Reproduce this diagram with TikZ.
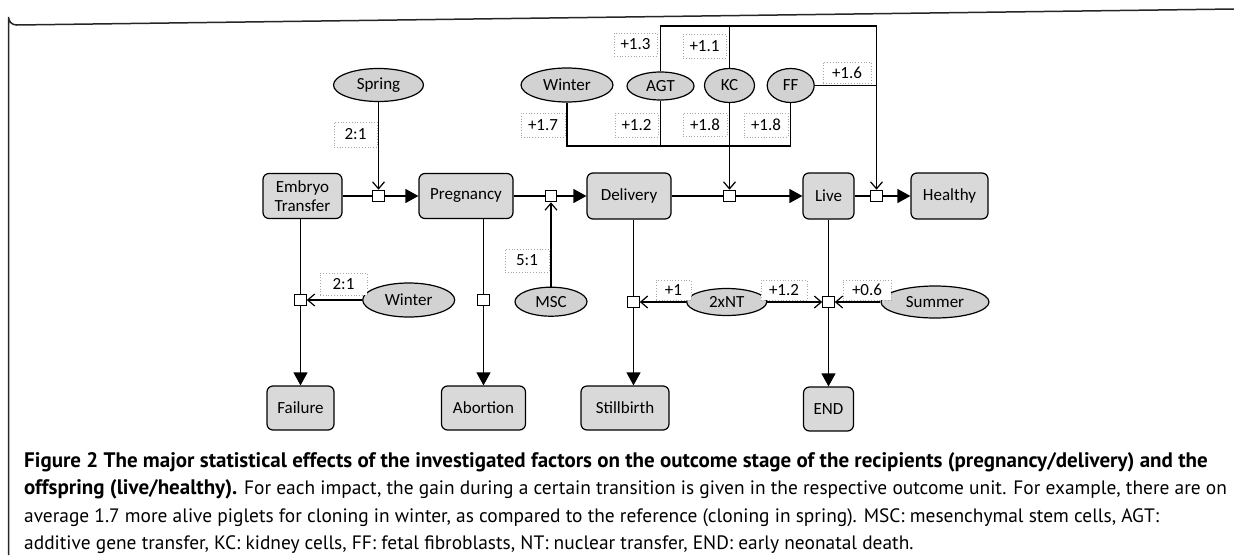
\documentclass[tikz,border=0pt]{standalone}
\usepackage{fontspec}
\setmainfont{Carlito}
\newfontfamily\capfont{PT Sans}
\newcommand{\capbold}{\fontsize{21}{23}\selectfont\bfseries}
\usetikzlibrary{arrows.meta,shapes.geometric}
\begin{document}
\begin{tikzpicture}[x=1pt,y=-1pt,
  stagebox/.style={draw=black, line width=1.2pt, rounded corners=6pt, fill=gray!30,
    font=\fontsize{17}{18.5}\selectfont, align=center, inner sep=0pt},
  factor/.style={ellipse, draw=black, line width=1.2pt, fill=gray!35, inner sep=0pt,
    font=\fontsize{17}{19}\selectfont},
  junc/.style={draw=black, fill=white, line width=1.1pt, minimum size=11.5pt, inner sep=0pt},
  lab/.style={draw=gray!70, dotted, fill=white, line width=0.8pt, inner sep=0pt,
    font=\fontsize{17}{19}\selectfont},
  conn/.style={line width=1.2pt},
  flow/.style={line width=1.2pt, -{Triangle[length=13pt,width=14pt]}},
  eff/.style={line width=1.2pt, -{Straight Barb[length=7pt,width=12pt]}},
  capline/.style={anchor=base west, inner sep=0pt, font=\capfont\fontsize{19.4}{23}\selectfont}
]
\useasboundingbox (0,0) rectangle (1234,555);
% frame
\draw[line width=1.5pt, black!85] (8.5,555) -- (8.5,17) arc[start angle=180, end angle=90, radius=8] -- (1234,9);

% stages
\node[stagebox, minimum width=79pt, minimum height=45pt] (et) at (302.5,196) {Embryo\\Transfer};
\node[stagebox, minimum width=94pt, minimum height=45pt] (preg) at (466,196) {Pregnancy};
\node[stagebox, minimum width=84pt, minimum height=46pt] (deliv) at (629,196) {Delivery};
\node[stagebox, minimum width=51pt, minimum height=46pt] (live) at (828.5,196) {Live};
\node[stagebox, minimum width=77pt, minimum height=46pt] (healthy) at (949.5,196) {Healthy};
\node[stagebox, minimum width=67pt, minimum height=44pt] (fail) at (300.5,408) {Failure};
\node[stagebox, minimum width=84pt, minimum height=44pt] (abort) at (483.5,408) {Abortion};
\node[stagebox, minimum width=88pt, minimum height=44pt] (still) at (625,408) {Stillbirth};
\node[stagebox, minimum width=50pt, minimum height=44pt] (endb) at (828.5,409) {END};

% junctions
\node[junc] (s1) at (378.5,196) {};
\node[junc] (s2) at (551,196) {};
\node[junc] (s3) at (729.5,196) {};
\node[junc] (s4) at (876.5,196) {};
\node[junc] (s5) at (300.5,300) {};
\node[junc] (s6) at (483.5,300) {};
\node[junc] (s7) at (633.5,302) {};
\node[junc] (s8) at (828.5,302) {};

% factors
\node[factor, minimum width=90pt, minimum height=33pt] (spring) at (378.5,85) {Spring};
\node[factor, minimum width=92pt, minimum height=34pt] (wt) at (567,85) {Winter};
\node[factor, minimum width=67pt, minimum height=28pt] (agt) at (660.5,86) {AGT};
\node[factor, minimum width=50pt, minimum height=34pt] (kc) at (729.5,85.5) {KC};
\node[factor, minimum width=47pt, minimum height=34pt] (ff) at (790.7,85.5) {FF};
\node[factor, minimum width=92pt, minimum height=34pt] (wl) at (408.7,300) {Winter};
\node[factor, minimum width=72pt, minimum height=29pt] (msc) at (551,301.7) {MSC};
\node[factor, minimum width=80pt, minimum height=27pt] (nt) at (726.7,302) {2xNT};
\node[factor, minimum width=108pt, minimum height=32pt] (summer) at (935,302) {Summer};

% effect labels
\node[lab, minimum width=43pt, minimum height=25pt] (l1) at (355.5,134.5) {2:1};
\node[lab, minimum width=44pt, minimum height=24pt] (l2) at (543,125) {+1.7};
\node[lab, minimum width=43pt, minimum height=23pt] (l3) at (635.5,44.5) {+1.3};
\node[lab, minimum width=43pt, minimum height=24pt] (l4) at (704.5,46) {+1.1};
\node[lab, minimum width=48pt, minimum height=21pt] (l5) at (847,72.5) {+1.6};
\node[lab, minimum width=43pt, minimum height=24pt] (l6) at (636.5,125) {+1.2};
\node[lab, minimum width=44pt, minimum height=23pt] (l7) at (705,124.5) {+1.8};
\node[lab, minimum width=44pt, minimum height=24pt] (l8) at (766,125) {+1.8};
\node[lab, minimum width=47pt, minimum height=22pt] (l9) at (343.5,284) {2:1};
\node[lab, minimum width=44pt, minimum height=23pt] (l10) at (527,260.5) {5:1};
\node[lab, minimum width=35pt, minimum height=20pt] (l11) at (673.5,290) {+1};
\node[lab, minimum width=46pt, minimum height=20pt] (l12) at (784,290) {+1.2};
\node[lab, minimum width=48pt, minimum height=20pt] (l13) at (867,290) {+0.6};

% main flow
\draw[conn] (et) -- (s1);
\draw[flow] (s1) -- (preg);
\draw[conn] (preg) -- (s2);
\draw[flow] (s2) -- (deliv);
\draw[conn] (deliv) -- (s3);
\draw[flow] (s3) -- (live);
\draw[conn] (live) -- (s4);
\draw[flow] (s4) -- (healthy);

% downward flows
\draw[conn] (s5 |- et.south) -- (s5);
\draw[flow] (s5) -- (fail);
\draw[conn] (s6 |- preg.south) -- (s6);
\draw[flow] (s6) -- (abort);
\draw[conn] (s7 |- deliv.south) -- (s7);
\draw[flow] (s7.south) -- (s7 |- still.north);
\draw[conn] (live) -- (s8);
\draw[flow] (s8) -- (endb);

% factor effects
\draw[eff] (spring) -- (s1);
\draw[eff] (wl) -- (s5);
\draw[eff] (msc) -- (s2);
\draw[eff] (nt) -- (s7);
\draw[eff] (nt) -- (s8);
\draw[eff] (summer) -- (s8);
\draw[eff] (kc) -- (s3);

% top bus
\coordinate (tbR) at (876.5,26);
\coordinate (bbR) at (790.7,146);
\draw[eff] (agt.north) |- (tbR) -- (s4);
\draw[conn] (kc.north) -- (kc.north |- tbR);
\draw[conn] (ff.east) -- (ff.east -| tbR);
% bottom bus
\draw[conn] (wt.south) |- (bbR) -- (ff.south);
\draw[conn] (agt.south) -- (agt.south |- bbR);

% caption
\node[capline] (c1) at (24,467) {\capbold Figure 2 The major statistical effects of the investigated factors on the outcome stage of the recipients (pregnancy/delivery) and the};
\node[capline] (c2) at (24,494.5) {{\capbold offspring (live/healthy).} For each impact, the gain during a certain transition is given in the respective outcome unit. For example, there are on};
\node[capline] (c3) at (24,522) {average 1.7 more alive piglets for cloning in winter, as compared to the reference (cloning in spring). MSC: mesenchymal stem cells, AGT:};
\node[capline] (c4) at (24,549.5) {additive gene transfer, KC: kidney cells, FF: fetal fibroblasts, NT: nuclear transfer, END: early neonatal death.};
\end{tikzpicture}
\end{document}
